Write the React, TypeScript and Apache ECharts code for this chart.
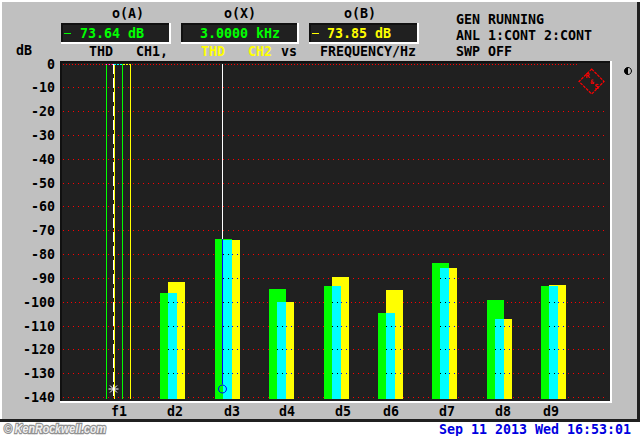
import React, { useEffect, useRef } from "react";
import * as echarts from "echarts";

const categories = ["f1", "d2", "d3", "d4", "d5", "d6", "d7", "d8", "d9"];
const ch1Values = [0, -96.1, -73.64, -94.4, -93.2, -104.5, -83.5, -99, -93.2];
const ch2Values = [0, -91.5, -73.85, -99.9, -89.4, -94.8, -85.6, -107, -92.8];
const gridLevels = [0, -10, -20, -30, -40, -50, -60, -70, -80, -90, -100, -110, -120, -130, -140];
const fundamentalIndex = 0;
const cursorIndex = 2;
const markerLevel = -136.4;

const readoutA = "73.64 dB";
const readoutX = "3.0000 kHz";
const readoutB = "73.85 dB";

const MONO = '"DejaVu Sans Mono"';
const FONT = `bold 13.3px ${MONO}`;
const GREEN = "#00ff00";
const YELLOW = "#ffff00";
const CYAN = "#00ffff";
const PANEL = "#c0c0c0";
const SCREEN = "#202020";

// centre of each category's label, px (the instrument prints them unevenly)
const labelCentres = [119, 175, 232, 287, 343, 391, 447, 503, 551];

const txt = (text: string, x: number, y: number, fill = "#000", font = FONT, align = "left") => ({
  type: "text",
  x,
  y,
  z: 5,
  silent: true,
  style: { text, fill, font, align, verticalAlign: "middle" },
});
const box = (x: number, y: number, width: number, height: number, fill: string, z = 0) => ({
  type: "rect",
  z,
  silent: true,
  shape: { x, y, width, height },
  style: { fill },
});

const readout = (x: number, y: number, w: number, h: number) => [
  box(x, y, w, h, "#ffffff", 1),
  box(x, y, w - 2, h - 2, "#101010", 2),
  box(x + 2, y + 2, w - 4, h - 4, SCREEN, 3),
];

const graphics: any[] = [
  box(0, 0, 640, 422, "#ffffff", -2),
  box(2, 2, 635, 417, PANEL, -1),
  box(0, 419, 640, 3, "#202020", -1),
  box(637, 2, 3, 420, "#202020", -1),
  box(60, 61, 552, 342, "#ffffff", 0),
  box(60, 61, 550, 340, "#101010", 1),
  box(62, 63, 548, 338, SCREEN, 2),
  ...readout(61, 23, 110, 21),
  ...readout(181, 23, 118, 21),
  ...readout(309, 23, 110, 21),
  txt("o(A)", 112, 13),
  txt("o(X)", 224, 13),
  txt("o(B)", 344, 13),
  box(64, 33, 7, 1, GREEN, 5),
  txt(readoutA, 80, 33, GREEN),
  txt(readoutX, 200, 33, GREEN),
  box(312, 33, 7, 1, YELLOW, 5),
  txt(readoutB, 327, 33, YELLOW),
  txt("dB", 16, 50),
  txt("THD", 89, 51),
  txt("CH1,", 136, 51),
  txt("THD", 201, 51, YELLOW),
  txt("CH2", 248, 51, YELLOW),
  txt("vs", 281, 51),
  txt("FREQUENCY/Hz", 320, 51),
  txt("GEN RUNNING", 456, 19),
  txt("ANL 1:CONT 2:CONT", 456, 35),
  txt("SWP OFF", 456, 51),
  ...categories.map((c, i) => txt(c, labelCentres[i], 411, "#000", FONT, "center")),
  {
    type: "polygon",
    z: 5,
    silent: true,
    shape: { points: [[591.7, 69], [604, 81.5], [591.7, 94], [579, 81.5]] },
    style: { fill: "none", stroke: "#ff0000", lineWidth: 1.2, lineDash: [3, 1] },
  },
  txt("R", 587.5, 76, "#ff0000", `bold 7px ${MONO}`, "center"),
  txt("&", 592, 81.5, "#ff0000", `bold 6px ${MONO}`, "center"),
  txt("S", 596.5, 87, "#ff0000", `bold 7px ${MONO}`, "center"),
  {
    type: "circle",
    z: 5,
    silent: true,
    shape: { cx: 628, cy: 71, r: 3.5 },
    style: { fill: PANEL, stroke: "#000", lineWidth: 1 },
  },
  {
    type: "sector",
    z: 5,
    silent: true,
    shape: { cx: 628, cy: 71, r: 3.5, r0: 0, startAngle: Math.PI / 2, endAngle: (3 * Math.PI) / 2 },
    style: { fill: "#000" },
  },
  txt("Sep 11 2013 Wed 16:53:01", 439, 429, "#0000e0", `bold 13.3px ${MONO}`),
  {
    type: "text",
    x: 4,
    y: 429,
    scaleX: 0.79,
    z: 5,
    silent: true,
    style: {
      text: "© KenRockwell.com",
      fill: "#f0f0f0",
      stroke: "#909090",
      lineWidth: 2.5,
      font: 'italic bold 13.5px "Liberation Sans"',
      verticalAlign: "middle",
    },
  },
];

const rect = (x: number, y: number, width: number, height: number, fill: string) => ({
  type: "rect",
  shape: { x, y, width, height },
  style: { fill },
});
const dotLine = (x1: number, x2: number, y: number, stroke: string, dash: number[]) => ({
  type: "line",
  shape: { x1, y1: y + 0.5, x2, y2: y + 0.5 },
  style: { stroke, lineWidth: 1, lineDash: dash },
});

const rowY = (api: any, level: number) => Math.floor(api.coord([0, level])[1]);

const renderGrid = (_: any, api: any) => {
  const level = api.value(1);
  const y = rowY(api, level);
  const left = Math.round(api.coord([-1.03, 0])[0]);
  const right = level > -20 ? 578 : 604;
  const dash = level === 0 ? [1, 2] : level === -100 ? [1, 3] : [1, 4];
  return dotLine(left, right, y, "#ff0000", dash);
};

const renderBars = (_: any, api: any) => {
  const i = api.value(0);
  const a = api.value(1);
  const b = api.value(2);
  const cx = api.coord([i, 0])[0];
  const gl = Math.round(cx - 12.5);
  const yl = gl + 8;
  const bottom = Math.round(api.coord([0, -140])[1]) + 1;
  const ya = Math.round(api.coord([0, a])[1]);
  const yb = Math.round(api.coord([0, b])[1]);
  const children: any[] = [];
  if (i === fundamentalIndex) {
    const top = rowY(api, 0);
    children.push(rect(gl, top, 1, bottom - top, GREEN));
    children.push(rect(gl + 16, top, 1, bottom - top, GREEN));
    children.push(rect(yl, top, 1, bottom - top, YELLOW));
    children.push(rect(yl + 16, top, 1, bottom - top, YELLOW));
    children.push(dotLine(yl, gl + 16, top, CYAN, [2, 1]));
    children.push(dotLine(gl + 17, yl + 16, top, YELLOW, [2, 1]));
    children.push(dotLine(gl, yl, top, "#ff40ff", [1, 2]));
    return { type: "group", children };
  }
  const yc = Math.max(ya, yb);
  children.push(rect(gl, ya, 17, bottom - ya, GREEN));
  children.push(rect(yl, yb, 17, bottom - yb, YELLOW));
  children.push(rect(yl, yc, 9, bottom - yc, CYAN));
  gridLevels.forEach((level) => {
    const y = rowY(api, level);
    if (y > yc && level > -140) {
      children.push(dotLine(yl, yl + 9, y, "#000000", [1, 4]));
      children.push(dotLine(gl + 17, yl + 17, y, "#0000ff", [1, 4]));
    }
  });
  return { type: "group", children };
};

const renderCursors = (_: any, api: any) => {
  const i = api.value(0);
  const a = api.value(1);
  const cx = api.coord([i, 0])[0];
  const x = Math.round(cx - 12.5) + 7;
  const top = rowY(api, 0);
  const my = Math.round(api.coord([0, markerLevel])[1]);
  const ya = Math.round(api.coord([0, a])[1]);
  if (i === cursorIndex) {
    return {
      type: "group",
      children: [
        rect(x, top, 1, ya - top, "#ffffff"),
        rect(x, ya, 1, my - 5 - ya, "#0000ff"),
        {
          type: "circle",
          shape: { cx: x + 0.5, cy: my, r: 4 },
          style: { fill: "none", stroke: "#0000ff", lineWidth: 1 },
        },
      ],
    };
  }
  const spoke = (dx: number, dy: number) => ({
    type: "line",
    shape: { x1: x + 0.5 - dx, y1: my - dy, x2: x + 0.5 + dx, y2: my + dy },
    style: { stroke: "#ffffff", lineWidth: 1 },
  });
  return {
    type: "group",
    children: [
      {
        type: "line",
        shape: { x1: x + 0.5, y1: top, x2: x + 0.5, y2: my + 8 },
        style: { stroke: "#ffffff", lineWidth: 1, lineDash: [10, 4] },
      },
      spoke(5, 0),
      spoke(3.5, 3.5),
      spoke(3.5, -3.5),
      spoke(0, 4.5),
    ],
  };
};

export default function App() {
  const ref = useRef<HTMLDivElement>(null);
  useEffect(() => {
    document.body.style.margin = "0";
    const chart = echarts.init(ref.current!, undefined, { renderer: "svg" });
    chart.setOption({
      animation: false,
      backgroundColor: "#ffffff",
      graphic: { elements: graphics },
      grid: { left: 62, top: 64, width: 548, height: 333.6 },
      xAxis: { type: "value", min: -1.04, max: 9.04, show: false, splitLine: { show: false } },
      yAxis: {
        type: "value",
        min: -140,
        max: 0,
        interval: 10,
        axisLine: { show: false },
        axisTick: { show: false },
        splitLine: { show: false },
        axisLabel: {
          color: "#000",
          margin: 7,
          fontFamily: "DejaVu Sans Mono",
          fontWeight: "bold",
          fontSize: 13.3,
        },
      },
      series: [
        {
          type: "custom",
          z: 3,
          silent: true,
          renderItem: renderGrid,
          data: gridLevels.map((l) => [0, l]),
        },
        {
          type: "custom",
          z: 4,
          silent: true,
          renderItem: renderBars,
          encode: { x: 0, y: 1 },
          data: categories.map((_, i) => [i, ch1Values[i], ch2Values[i]]),
        },
        {
          type: "custom",
          z: 6,
          silent: true,
          renderItem: renderCursors,
          encode: { x: 0, y: 1 },
          data: [fundamentalIndex, cursorIndex].map((i) => [i, ch1Values[i]]),
        },
      ],
    });
    return () => chart.dispose();
  }, []);
  return <div ref={ref} style={{ width: 640, height: 436 }} />;
}
